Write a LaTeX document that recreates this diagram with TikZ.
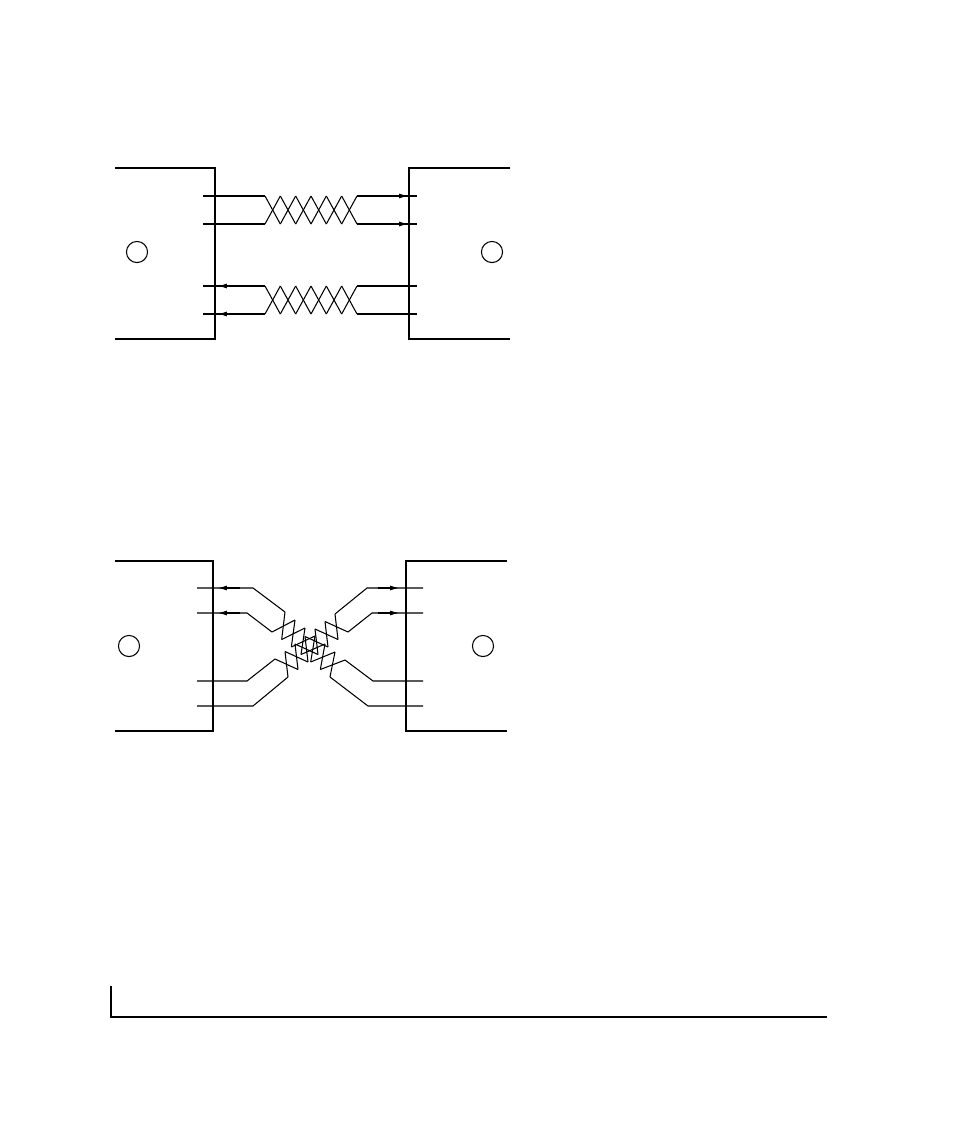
\documentclass[tikz,border=0pt]{standalone}
\usetikzlibrary{arrows.meta}
\usetikzlibrary{calc}

% Par trenzado entre dos rieles (#1-#2) y (#3-#4) con #5 cruces
\newcommand{\partrenzado}[5]{%
  \foreach \k in {1,...,#5} {
    \pgfmathsetmacro{\ta}{(\k-1)/#5}
    \pgfmathsetmacro{\tb}{\k/#5}
    \draw[hilo] ($(#1)!\ta!(#2)$) -- ($(#3)!\tb!(#4)$);
    \draw[hilo] ($(#3)!\ta!(#4)$) -- ($(#1)!\tb!(#2)$);
  }%
}

\begin{document}
\begin{tikzpicture}[x=0.5682pt, y=-0.5682pt,
    caja/.style={line width=1.1pt},
    hilo/.style={line width=0.6pt},
    flecha/.style={hilo, -{Latex[length=5pt,width=2.8pt]}},
    conector/.style={circle, draw, line width=0.6pt, minimum size=12pt, inner sep=0pt}]
    \useasboundingbox (0,0) rectangle (954,1145);

    % Cable directo (arriba)
    \draw[caja] (115,168) -- (215,168) -- (215,339) -- (115,339); % Equipo izquierdo
    \draw[caja] (510,168) -- (409,168) -- (409,339) -- (510,339); % Equipo derecho
    \node[conector] (ca) at (137,252) {};
    \node[conector] (cb) at (492,252) {};

    % Rieles de los pares
    \coordinate (d1a) at (265,196); \coordinate (d1b) at (357,196);
    \coordinate (d2a) at (265,224); \coordinate (d2b) at (357,224);
    \coordinate (d3a) at (265,286); \coordinate (d3b) at (357,286);
    \coordinate (d4a) at (265,314); \coordinate (d4b) at (357,314);

    % Hilos rectos
    \foreach \n/\y in {1/196,2/224,3/286,4/314} {
        \draw[hilo] (203,\y) -- (d\n a);
        \draw[hilo] (d\n b) -- (417,\y);
    }
    \partrenzado{d1a}{d1b}{d2a}{d2b}{6}
    \partrenzado{d3a}{d3b}{d4a}{d4b}{6}

    % Sentido de la senal
    \draw[flecha] (385,196) -- (408,196);
    \draw[flecha] (385,224) -- (408,224);
    \draw[flecha] (240,286) -- (218,286);
    \draw[flecha] (240,314) -- (218,314);

    % Cable cruzado (abajo)
    \draw[caja] (115,561) -- (213,561) -- (213,731) -- (115,731); % Equipo izquierdo
    \draw[caja] (507,561) -- (406,561) -- (406,731) -- (507,731); % Equipo derecho
    \node[conector] (cc) at (129,646) {};
    \node[conector] (cd) at (483,646) {};

    % Rieles de los pares cruzados
    \coordinate (p1a) at (285,612); \coordinate (p1b) at (345,660);
    \coordinate (p2a) at (272,632); \coordinate (p2b) at (330,677);
    \coordinate (q1a) at (335,614); \coordinate (q1b) at (275,659);
    \coordinate (q2a) at (348,632); \coordinate (q2b) at (288,677);

    % Hilos del equipo izquierdo
    \draw[hilo] (197,588) -- (253,588) -- (p1a);
    \draw[hilo] (197,613) -- (247,613) -- (p2a);
    \draw[hilo] (197,681) -- (247,681) -- (q1b);
    \draw[hilo] (197,706) -- (253,706) -- (q2b);
    % Hilos del equipo derecho
    \draw[hilo] (423,588) -- (367,588) -- (q1a);
    \draw[hilo] (423,613) -- (372,613) -- (q2a);
    \draw[hilo] (423,681) -- (373,681) -- (p1b);
    \draw[hilo] (423,706) -- (368,706) -- (p2b);

    \partrenzado{p1a}{p1b}{p2a}{p2b}{6}
    \partrenzado{q1a}{q1b}{q2a}{q2b}{6}

    % Sentido de la senal
    \draw[flecha] (240,588) -- (218,588);
    \draw[flecha] (240,613) -- (218,613);
    \draw[flecha] (378,588) -- (399,588);
    \draw[flecha] (378,613) -- (399,613);

    % Marco inferior de la pagina
    \draw[line width=0.8pt] (111,986) -- (111,1017) -- (827,1017);
\end{tikzpicture}
\end{document}
